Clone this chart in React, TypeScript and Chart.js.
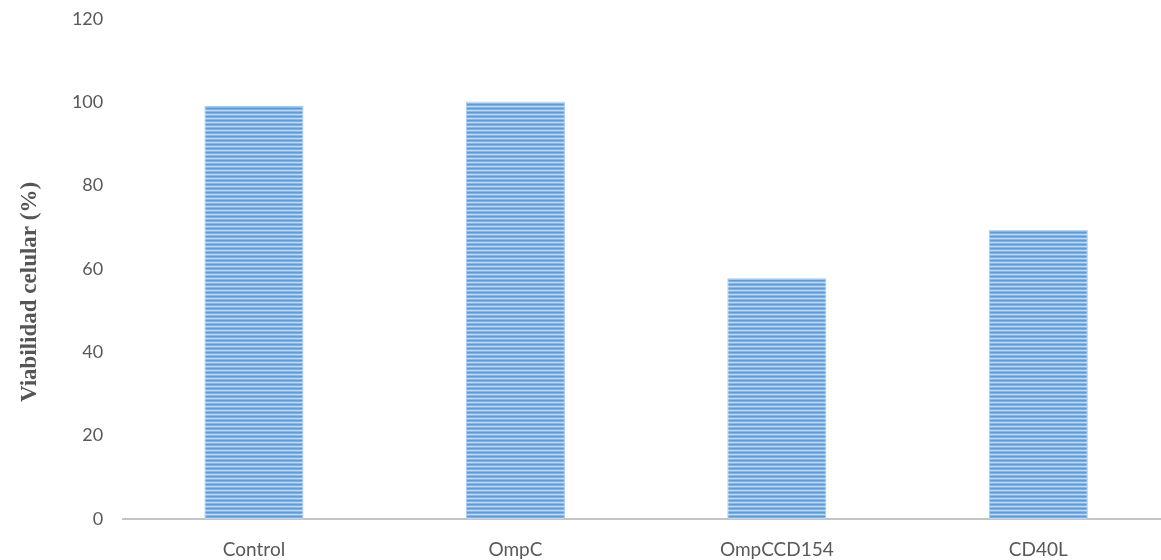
import React, { useEffect, useRef } from "react";
import { Chart, registerables } from "chart.js";

Chart.register(...registerables);

const categories: string[] = ["Control", "OmpC", "OmpCCD154", "CD40L"];
const viabilidad: number[] = [99.1, 100.2, 57.8, 69.4];
const yTitle = "Viabilidad celular (%)";
const yMin = 0;
const yMax = 120;
const yStep = 20;

function makePattern(): CanvasPattern | string {
  const c = document.createElement("canvas");
  c.width = 4;
  c.height = 4;
  const ctx = c.getContext("2d");
  if (!ctx) return "#7cb0e3";
  const rows = ["#5e9cd7", "#7db0e3", "#c2d9f1", "#89b7e5"];
  rows.forEach((col, i) => {
    ctx.fillStyle = col;
    ctx.fillRect(0, i, 4, 1);
  });
  const p = ctx.createPattern(c, "repeat");
  return p || "#7cb0e3";
}

const yTitlePlugin = {
  id: "yTitleCustom",
  afterDraw(chart: any) {
    const ctx = chart.ctx as CanvasRenderingContext2D;
    ctx.save();
    ctx.translate(36, 292);
    ctx.rotate(-Math.PI / 2);
    ctx.font = "bold 23px 'Liberation Serif', 'Times New Roman', serif";
    ctx.fillStyle = "#555555";
    ctx.textAlign = "center";
    ctx.textBaseline = "alphabetic";
    ctx.fillText(yTitle, 0, 0);
    ctx.restore();
  },
};

export default function App() {
  const ref = useRef<HTMLCanvasElement | null>(null);

  useEffect(() => {
    if (!ref.current) return;
    const pattern = makePattern();
    const chart = new Chart(ref.current, {
      type: "bar",
      data: {
        labels: categories,
        datasets: [
          {
            data: viabilidad,
            backgroundColor: pattern as any,
            borderColor: "#a7c9ec",
            borderWidth: { left: 1, right: 1, top: 1, bottom: 0 } as any,
            borderSkipped: "bottom",
            categoryPercentage: 1,
            barPercentage: 0.379,
          },
        ],
      },
      options: {
        animation: false,
        responsive: false,
        maintainAspectRatio: false,
        layout: { padding: { top: 19, right: 1, bottom: 0, left: 0 } },
        plugins: {
          legend: { display: false },
          tooltip: { enabled: false },
        },
        scales: {
          x: {
            grid: { display: false, drawTicks: false },
            border: { display: true, color: "#c4c4c4", width: 2 },
            ticks: {
              color: "#595959",
              font: { family: "Lato, 'Open Sans', sans-serif", size: 19 },
              padding: 19,
              maxRotation: 0,
              autoSkip: false,
            },
            afterFit(scale: any) {
              scale.height = 41;
            },
          },
          y: {
            min: yMin,
            max: yMax,
            grid: { display: false, drawTicks: false },
            border: { display: false },
            ticks: {
              stepSize: yStep,
              color: "#595959",
              font: { family: "Lato, 'Open Sans', sans-serif", size: 18 },
              padding: 20,
            },
            afterFit(scale: any) {
              scale.width = 123.25;
              scale.paddingTop = 11;
              scale.paddingBottom = 11;
            },
          },
        },
      },
      plugins: [yTitlePlugin],
    });
    return () => chart.destroy();
  }, []);

  return (
    <div
      style={{
        position: "fixed",
        left: 0,
        top: 0,
        width: 1161,
        height: 560,
        overflow: "hidden",
        background: "#ffffff",
      }}
    >
      <canvas ref={ref} width={1170} height={560} style={{ width: 1170, height: 560, display: "block" }} />
    </div>
  );
}
